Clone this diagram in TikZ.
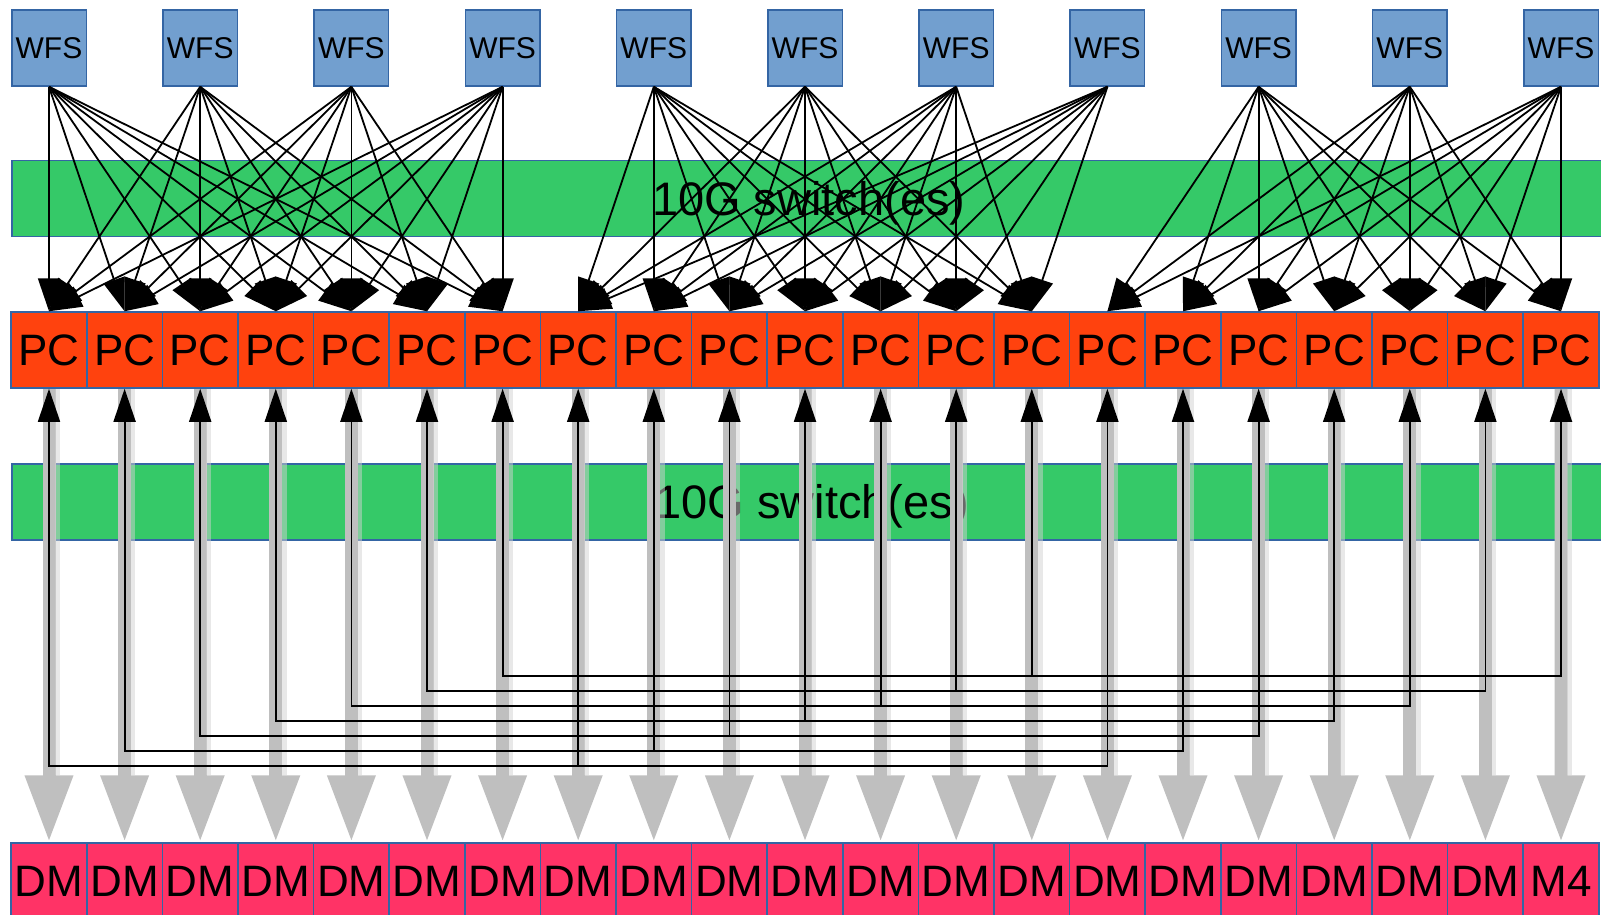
\documentclass[tikz,border=0pt]{standalone}
\usepackage{fontspec}
\setmainfont{Liberation Sans}
\usetikzlibrary{arrows.meta}
\definecolor{wfsfill}{HTML}{729FCF}
\definecolor{boxline}{HTML}{3465A4}
\definecolor{switchgreen}{HTML}{35C968}
\definecolor{pcfill}{HTML}{FF420E}
\definecolor{dmfill}{HTML}{FF3366}
\definecolor{shaftgray}{HTML}{BFBFBF}

\begin{document}
\begin{tikzpicture}[x=1pt,y=-1pt,
  wfsbox/.style={draw=boxline, line width=1.5pt, fill=wfsfill, minimum width=74.5pt,
    minimum height=76pt, inner sep=0pt, font=\fontsize{30}{30}\selectfont},
  pcbox/.style={draw=boxline, line width=1.5pt, fill=pcfill, minimum width=75.6pt,
    minimum height=76pt, inner sep=0pt, font=\fontsize{44}{44}\selectfont},
  dmbox/.style={draw=boxline, line width=1.5pt, fill=dmfill, minimum width=75.6pt,
    minimum height=76pt, inner sep=0pt, font=\fontsize{44}{44}\selectfont},
  switchband/.style={draw=boxline, line width=1.5pt, fill=switchgreen, anchor=west,
    minimum width=1594pt, minimum height=76pt, inner sep=0pt,
    text height=33.6pt, text depth=0pt, font=\fontsize{47}{47}\selectfont},
  feed/.style={line width=1.8pt, -{Triangle[length=33pt,width=22pt]}},
  relay/.style={line width=1.8pt, line join=miter,
    {Triangle[length=33pt,width=22pt]}-{Triangle[length=33pt,width=22pt]}},
  drive/.style={draw=shaftgray, line width=13pt, -{Triangle[length=67pt,width=45pt]}},
  driveedge/.style={draw=shaftgray!70, line width=4.5pt, opacity=0.5, shorten >=67pt},
]
\useasboundingbox (0,0) rectangle (1601,914);
\clip (0,0) rectangle (1601,914);

% switch layers
\node[switchband] (sw1) at (11,198.5) {10G switch(es)};
\node[switchband] (sw2) at (11,502) {\hspace*{7pt}10G switch(es)};

% wavefront sensors
\foreach \i in {0,...,10} {
  \pgfmathsetmacro\cx{11.2+75.6*(2*\i+0.5)}
  \node[wfsbox] (wfs\i) at (\cx,48) {WFS};
}

% computers, deformable mirrors and the routing taps below the computers
\foreach \j in {0,...,20} {
  \pgfmathsetmacro\cx{11.2+75.6*(\j+0.5)}
  \pgfmathtruncatemacro\g{mod(\j,7)}
  \pgfmathsetmacro\yl{766-15*\g}
  \node[pcbox] (pc\j) at (\cx,350) {PC};
  \coordinate (tap\j) at (\cx,\yl);
}
\foreach \j in {0,...,19} {
  \pgfmathsetmacro\cx{11.2+75.6*(\j+0.5)}
  \node[dmbox] (dm\j) at (\cx,881) {DM};
}
\node[dmbox] (dm20) at (1561.0,881) {M4};

% mirror commands
\foreach \j in {0,...,20} {
  \draw[drive] (pc\j.south) -- (dm\j.north);
  \draw[driveedge] ([xshift=8.5pt]pc\j.south) -- ([xshift=8.5pt]dm\j.north);
}

% sensor data to computers
\foreach \w in {0,...,3} \foreach \p in {0,...,6}
  \draw[feed] (wfs\w.south) -- (pc\p.north);
\foreach \w in {4,...,7} \foreach \p in {7,...,13}
  \draw[feed] (wfs\w.south) -- (pc\p.north);
\foreach \w in {8,...,10} \foreach \p in {14,...,20}
  \draw[feed] (wfs\w.south) -- (pc\p.north);

% exchange between computers
\foreach \g in {0,...,6} {
  \pgfmathtruncatemacro\m{\g+7}
  \pgfmathtruncatemacro\r{\g+14}
  \draw[relay] (pc\g.south) -- (tap\g) -- (tap\r) -- (pc\r.south);
  \draw[feed] (tap\m) -- (pc\m.south);
}
\end{tikzpicture}
\end{document}
